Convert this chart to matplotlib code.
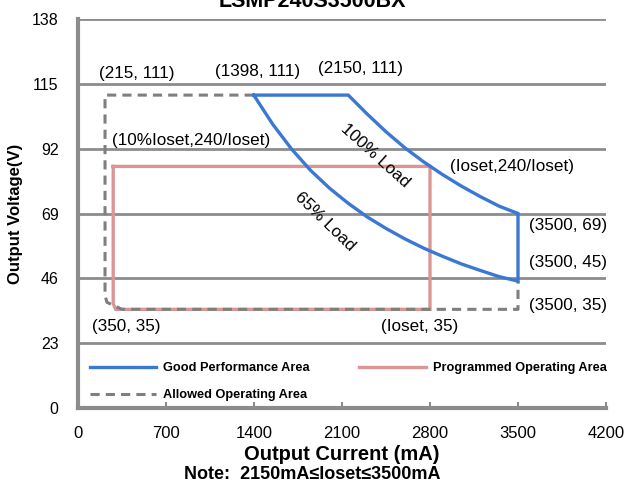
import matplotlib
matplotlib.use("Agg")
import matplotlib.pyplot as plt
from matplotlib.lines import Line2D

plt.rcParams["font.family"] = ["Liberation Sans", "DejaVu Sans"]

# ----------------------------------------------------------------
# Data
# ----------------------------------------------------------------
# Good performance area: top edge, 100% load curve, right edge, 65% load curve
good_i = [1398, 2150, 2300, 2450, 2600, 2750, 2900, 3050, 3200, 3350, 3500,
          3500, 3350, 3200, 3050, 2900, 2750, 2600, 2450, 2300, 2150, 2000,
          1850, 1700, 1550, 1398]
good_v = [111, 111, 104.3, 98.0, 92.3, 87.3, 82.8, 78.7, 75.0, 71.6, 69,
          45, 46.6, 48.8, 51.1, 53.8, 56.7, 60.0, 63.7, 67.8, 72.6, 78.0,
          84.3, 91.8, 100.6, 111]

# Programmed operating area (Ioset = 2800 mA)
prog_i = [280, 2800, 2800, 300, 280, 280]
prog_v = [85.7, 85.7, 35, 35, 37, 85.7]

# Allowed operating area
allow_i = [1398, 215, 215, 230, 350, 3500, 3500]
allow_v = [111, 111, 40, 37.5, 35, 35, 45]

x_ticks = [0, 700, 1400, 2100, 2800, 3500, 4200]
y_ticks = [0, 23, 46, 69, 92, 115, 138]

annotations = [
    ("(215, 111)", 470, 118.5, "center", 0),
    ("(1398, 111)", 1425, 119.5, "center", 0),
    ("(2150, 111)", 2245, 120.3, "center", 0),
    ("(10%Ioset,240/Ioset)", 270, 95.0, "left", 0),
    ("(Ioset,240/Ioset)", 2960, 85.6, "left", 0),
    ("(3500, 69)", 3590, 64.6, "left", 0),
    ("(3500, 45)", 3590, 51.6, "left", 0),
    ("(3500, 35)", 3590, 36.4, "left", 0),
    ("(Ioset, 35)", 2720, 28.8, "center", 0),
    ("(350, 35)", 380, 28.8, "center", 0),
    ("100% Load", 2365, 89.5, "center", -42),
    ("65% Load", 1965, 66.0, "center", -44),
]

BLUE = "#3A78D4"
RED = "#DA9694"
GREY = "#7F7F7F"
GRID = "#8C8C8C"

fig = plt.figure(figsize=(6.25, 4.86), dpi=100)
ax = fig.add_axes([78 / 625, 1 - 408 / 486, (606 - 78) / 625, (408 - 19) / 486])

ax.plot(prog_i, prog_v, color=RED, lw=2.4, solid_joinstyle="miter", zorder=3)
ax.plot(allow_i, allow_v, color=GREY, lw=2.2, ls=(0, (3, 2)), zorder=4)
ax.plot(good_i, good_v, color=BLUE, lw=2.4, solid_joinstyle="miter", zorder=5)

ax.set_xlim(0, 4200)
ax.set_ylim(0, 138)
ax.set_xticks(x_ticks)
ax.set_yticks(y_ticks)
ax.tick_params(axis="x", direction="in", length=4, width=1.5, color=GRID,
               labelsize=12, pad=13)
ax.tick_params(axis="y", length=0, labelsize=11.5, pad=14)
ax.grid(axis="y", color=GRID, lw=2)
ax.set_axisbelow(True)
for s in ["top", "right"]:
    ax.spines[s].set_visible(False)
for s in ["left", "bottom"]:
    ax.spines[s].set_color(GRID)
    ax.spines[s].set_linewidth(3)

ax.set_xlabel("Output Current (mA)", fontsize=14.5, fontweight="bold", labelpad=3)
ax.set_ylabel("Output Voltage(V)", fontsize=12, fontweight="bold", labelpad=6)

for txt, x, y, ha, rot in annotations:
    ax.text(x, y, txt, fontsize=12.3, ha=ha, va="center", rotation=rot,
            rotation_mode="anchor", zorder=6)

handles = [
    Line2D([], [], color=BLUE, lw=2.4),
    Line2D([], [], color=GREY, lw=2.2, ls=(0, (3, 2))),
    Line2D([], [], color=RED, lw=2.4),
]
labels = ["Good Performance Area", "Allowed Operating Area",
          "Programmed Operating Area"]
ax.legend(handles, labels, ncol=2, loc="lower left",
          bbox_to_anchor=(0.0, -0.012), frameon=False, handlelength=5.2,
          handletextpad=0.55, columnspacing=3.9, labelspacing=1.15,
          prop={"weight": "bold", "size": 9.2})

fig.text(0.5, 1 - 7 / 486, "LSMP240S3500BX", ha="center", va="baseline",
         fontsize=15.5, fontweight="bold")
fig.text(0.5, 1 - 479 / 486, "Note:  2150mA\u2264Ioset\u22643500mA", ha="center",
         va="baseline", fontsize=13, fontweight="bold")

fig.savefig("out.png", dpi=100)
